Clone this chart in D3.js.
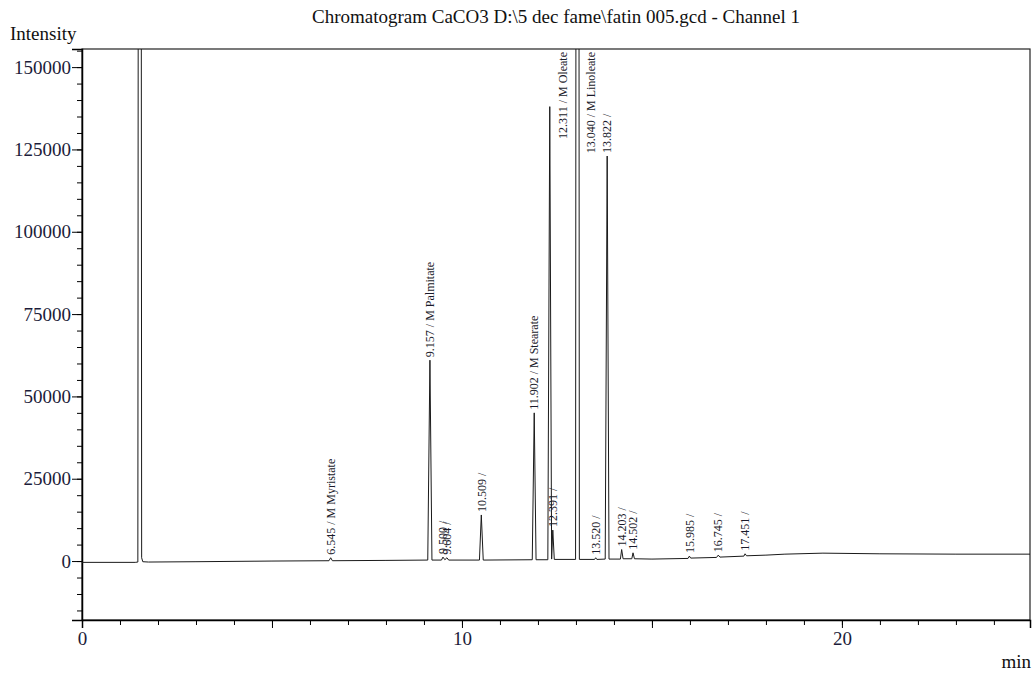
<!DOCTYPE html>
<html>
<head>
<meta charset="utf-8">
<script src="https://cdn.jsdelivr.net/npm/d3@7"></script>
<style>
  body { margin: 0; background: #fff; }
  text { font-family: "Liberation Serif", "Times New Roman", serif; }
</style>
</head>
<body>
<div id="chart"></div>
<script>
// trace: retention time (min) and intensity
const traceTime = [0, 1.40, 1.47, 1.52, 1.57, 1.60, 1.75, 3.0, 5.0, 6.50, 6.545, 6.59, 8.0,
  9.10, 9.157, 9.21, 9.46, 9.50, 9.55, 9.604, 9.65, 10.46, 10.509, 10.56, 11.85, 11.902, 11.95,
  12.26, 12.311, 12.36, 12.391, 12.43, 12.99, 13.04, 13.09, 13.49, 13.52, 13.55, 13.77, 13.822,
  13.87, 14.17, 14.203, 14.24, 14.47, 14.502, 14.54, 15.0, 15.95, 15.985, 16.02, 16.70, 16.745,
  16.79, 17.42, 17.451, 17.49, 18.0, 18.5, 19.5, 21.0, 23.0, 25.0];
const traceIntensity = [-400, -400, -300, 900000, 1000, -200, -300, -200, 0, 100, 1000, 100, 200,
  300, 61000, 300, 300, 1200, 400, 1000, 300, 300, 14000, 300, 400, 45000, 400,
  400, 138000, 600, 9400, 500, 500, 900000, 500, 500, 1000, 500, 600, 123000,
  600, 600, 3500, 700, 700, 2500, 700, 600, 800, 1500, 900, 1100, 1800,
  1200, 1500, 2200, 1600, 1800, 2100, 2400, 2200, 2100, 2100];

// labelled peaks
const peakTimes = [6.545, 9.157, 9.500, 9.604, 10.509, 11.902, 12.311, 12.391, 13.040, 13.520,
  13.822, 14.203, 14.502, 15.985, 16.745, 17.451];
const peakHeights = [1000, 61000, 1200, 1000, 14000, 45000, 138000, 9400, 900000, 1000,
  123000, 3500, 2500, 1500, 1800, 2200];
const peakNames = ["6.545 / M Myristate", "9.157 / M Palmitate", "9.500 /", "9.604 /", "10.509 /",
  "11.902 / M Stearate", "12.311 / M Oleate", "12.391 /", "13.040 / M Linoleate", "13.520 /",
  "13.822 /", "14.203 /", "14.502 /", "15.985 /", "16.745 /", "17.451 /"];

const yMajor = [0, 25000, 50000, 75000, 100000, 125000, 150000];
const xMajor = [0, 10, 20];

const width = 1035, height = 675;
const mLeft = 82, mRight = 1030, mTop = 49, mBottom = 620;
const fontSize = 19;

const svg = d3.select("#chart").append("svg")
    .attr("width", width)
    .attr("height", height);

const x = d3.scaleLinear().domain([0, 24.95]).range([mLeft, mRight]);
const y = d3.scaleLinear().domain([-17900, 155500]).range([mBottom, mTop]);

svg.append("defs").append("clipPath").attr("id", "plot")
  .append("rect")
    .attr("x", mLeft).attr("y", mTop)
    .attr("width", mRight - mLeft).attr("height", mBottom - mTop);

// frame
svg.append("rect")
    .attr("x", mLeft).attr("y", mTop)
    .attr("width", mRight - mLeft).attr("height", mBottom - mTop)
    .attr("fill", "none")
    .attr("stroke", "#222")
    .attr("stroke-width", 1.2);

// y axis: minor every 5000
svg.append("g")
    .attr("transform", `translate(${mLeft},0)`)
    .call(d3.axisLeft(y).tickValues(d3.range(-15000, 155001, 5000)).tickSize(5).tickFormat(""))
    .call(g => g.select(".domain").remove());

svg.append("g")
    .attr("transform", `translate(${mLeft},0)`)
    .call(d3.axisLeft(y).tickValues(yMajor).tickSize(10).tickPadding(1).tickFormat(d3.format("d")))
    .call(g => g.select(".domain").attr("stroke-width", 1.5))
    .call(g => g.selectAll("text").attr("font-size", fontSize).attr("fill", "#1c1c3a"));

// x axis: minor every minute, longer every 5
svg.append("g")
    .attr("transform", `translate(0,${mBottom})`)
    .call(d3.axisBottom(x).tickValues(d3.range(0, 25, 1)).tickSize(5).tickFormat(""))
    .call(g => g.select(".domain").remove());

svg.append("g")
    .attr("transform", `translate(0,${mBottom})`)
    .call(d3.axisBottom(x).tickValues([0, 5, 10, 15, 20]).tickSize(8).tickFormat(""))
    .call(g => g.select(".domain").attr("stroke-width", 1.5));

svg.append("g")
    .attr("transform", `translate(0,${mBottom})`)
    .call(d3.axisBottom(x).tickValues(xMajor).tickSize(0).tickPadding(12).tickFormat(d3.format("d")))
    .call(g => g.select(".domain").remove())
    .call(g => g.selectAll("text").attr("font-size", fontSize).attr("fill", "#1c1c3a"));

// trace
const line = d3.line()
    .x((d, i) => x(traceTime[i]))
    .y(d => y(d));

svg.append("path")
    .datum(traceIntensity)
    .attr("clip-path", "url(#plot)")
    .attr("fill", "none")
    .attr("stroke", "#1a1a1a")
    .attr("stroke-width", 1)
    .attr("d", line);

// peak labels, rotated
const labelSize = 12;
const labels = svg.append("g");
peakTimes.forEach((t, i) => {
  const txt = labels.append("text")
      .attr("font-size", labelSize)
      .attr("fill", "#1a1a2a")
      .attr("dy", "0.35em")
      .text(peakNames[i]);
  const len = txt.node().getComputedTextLength();
  let px = x(t);
  let py = Math.max(y(peakHeights[i]), mTop) - 3;
  if (py - len < mTop + 2) {
    // no room above the apex: push right and hang from the frame
    px += 13;
    txt.attr("text-anchor", "end");
    py = mTop + 3;
  }
  txt.attr("transform", `translate(${px},${py}) rotate(-90)`);
});

// titles
svg.append("text")
    .attr("x", (mLeft + mRight) / 2)
    .attr("y", 23)
    .attr("text-anchor", "middle")
    .attr("font-size", fontSize)
    .attr("fill", "#111")
    .text("Chromatogram CaCO3 D:\\5 dec fame\\fatin 005.gcd - Channel 1");

svg.append("text")
    .attr("x", 10)
    .attr("y", 40)
    .attr("font-size", fontSize)
    .attr("fill", "#111")
    .text("Intensity");

svg.append("text")
    .attr("x", 1031)
    .attr("y", 668)
    .attr("text-anchor", "end")
    .attr("font-size", fontSize)
    .attr("fill", "#111")
    .text("min");
</script>
</body>
</html>
